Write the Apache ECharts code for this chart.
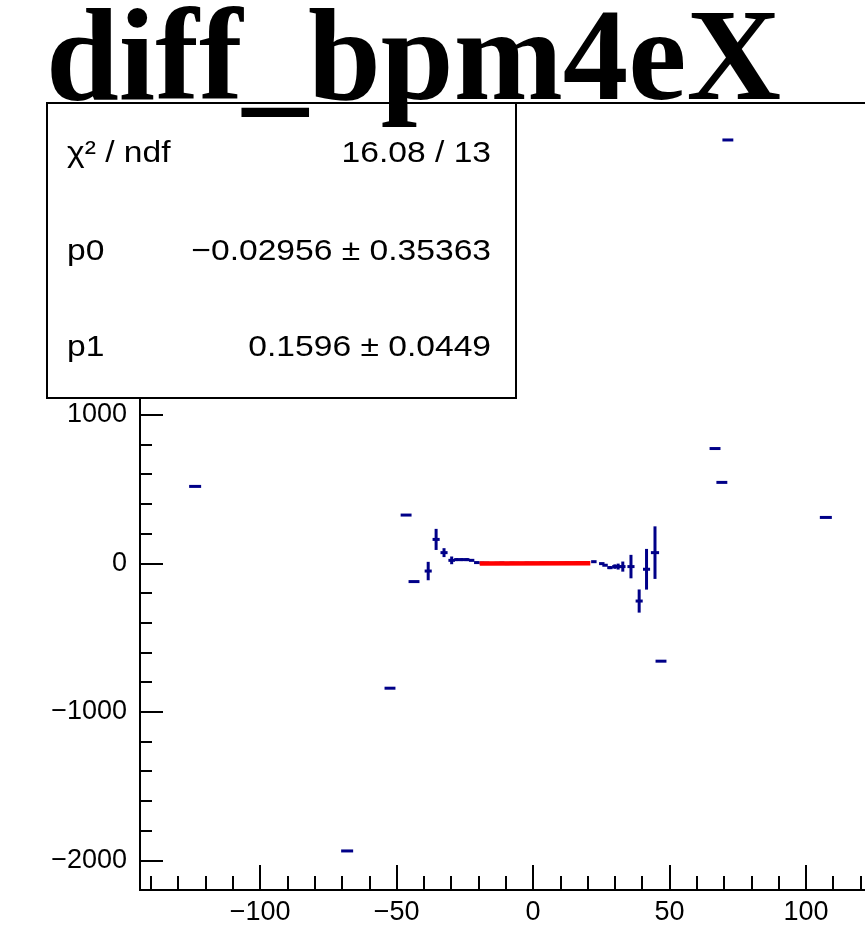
<!DOCTYPE html>
<html>
<head>
<meta charset="utf-8">
<script src="https://cdn.jsdelivr.net/npm/echarts@6/dist/echarts.min.js"></script>
<style>
html,body{margin:0;padding:0;background:#fff;overflow:hidden;}
#wrap{width:865px;height:945px;overflow:hidden;position:relative;}
#chart{width:926px;height:945px;}
</style>
</head>
<body>
<div id="wrap"><div id="chart"></div></div>
<script>
// ---- data ----
var titleText = 'diff_bpm4eX';
var pointsX = [-123.8, -68.1, -52.4, -46.5, -43.6, -38.4, -35.5, -32.6, -29.8, -27.9, -26.1, -24.3, -22.5, -20.6,
  -18.7, -16.9, -15.0, -13.2, -11.4, -9.5, -7.7, -5.9, -4.0, -2.2, -0.4, 1.5, 3.3, 5.1, 7.0, 8.8, 10.6, 12.5, 14.3, 16.1, 18.0, 19.8,
  22.3, 25.2, 26.4, 28.2, 30.0, 31.2, 32.9, 35.9, 38.9, 41.6, 44.7, 46.9, 66.7, 69.2, 71.4, 107.3];
var pointsY = [518, -1937, -841, 325, -123, -52, 161, 72, 20, 25, 25, 25, 20, 5,
  2, 1, -1, 0, 2, -2, 1, 0, -1, 1, 0, -1, 2, 1, 0, -1, 1, 2, 0, 1, 3, 2,
  11, -2, -13, -29, -22, -22, -22, -22, -254, -40, 72, -659, 773, 545, 2851, 309];
var pointsXErr = [2.2, 2.2, 2.0, 2.0, 2.0, 1.3, 1.3, 1.3, 1.2, 1.0, 1.0, 1.0, 1.0, 1.0,
  0.9, 0.9, 0.9, 0.9, 0.9, 0.9, 0.9, 0.9, 0.9, 0.9, 0.9, 0.9, 0.9, 0.9, 0.9, 0.9, 0.9, 0.9, 0.9, 0.9, 0.9, 0.9,
  1.0, 1.0, 1.0, 1.0, 1.0, 1.0, 1.0, 1.3, 1.3, 1.3, 1.5, 2.0, 2.0, 2.0, 2.0, 2.2];
var pointsYErr = [3, 3, 3, 3, 3, 62, 71, 30, 26, 10, 10, 10, 5, 5,
  4, 4, 4, 4, 4, 4, 4, 4, 4, 4, 4, 4, 4, 4, 4, 4, 4, 4, 4, 4, 4, 4,
  5, 5, 5, 10, 15, 20, 34, 79, 78, 137, 177, 3, 3, 3, 3, 3];
var fitX = [-19.5, 21.0];
var fitY = [-1.0, 1.0];
var xMajorTicks = [-100, -50, 0, 50, 100];
var xMinorTicks = [-140,-130,-120,-110,-100,-90,-80,-70,-60,-50,-40,-30,-20,-10,0,10,20,30,40,50,60,70,80,90,100,110,120,130,140];
var yMajorTicks = [-2000, -1000, 0, 1000, 2000, 3000];
var yMinorTicks = [-2200,-2000,-1800,-1600,-1400,-1200,-1000,-800,-600,-400,-200,0,200,400,600,800,1000,1200,1400,1600,1800,2000,2200,2400,2600,2800,3000];
var statsNames = ['\u03c7\u00b2 / ndf', 'p0', 'p1'];
var statsValues = ['16.08 / 13', '\u22120.02956 \u00b1 0.35363', '0.1596 \u00b1 0.0449'];

var X_MIN = -144, X_MAX = 144, Y_MIN = -2200, Y_MAX = 3100;

var pts = pointsX.map(function (x, i) { return [x, pointsY[i], pointsXErr[i], pointsYErr[i]]; });
var fitData = fitX.map(function (x, i) { return [x, fitY[i]]; });

function fmt(v) { return v < 0 ? '\u2212' + Math.abs(v) : String(v); }

var axisFont = { fontFamily: 'Liberation Sans', fontSize: 27, color: '#000' };
var PT_COLOR = '#000088';

var chart = echarts.init(document.getElementById('chart'), null, { renderer: 'canvas' });

var statsRows = [154, 252, 348];
var graphics = [
  { type: 'rect', z: 100, shape: { x: 47, y: 103, width: 469, height: 295 },
    style: { fill: '#fff', stroke: '#000', lineWidth: 2 } }
];
statsNames.forEach(function (n, i) {
  graphics.push({ type: 'text', z: 101, x: 67, y: statsRows[i], scaleX: 1.12,
    style: { text: n, font: '30px "Liberation Sans"', fill: '#000', textAlign: 'left', textVerticalAlign: 'middle' } });
  graphics.push({ type: 'text', z: 101, x: 491, y: statsRows[i], scaleX: 1.12,
    style: { text: statsValues[i], font: '30px "Liberation Sans"', fill: '#000', textAlign: 'right', textVerticalAlign: 'middle' } });
});
graphics.push({ type: 'text', z: 110, x: 46, y: 65,
  style: { text: titleText, font: 'bold 131px "Liberation Serif"', fill: '#000', textAlign: 'left', textVerticalAlign: 'middle' } });

chart.setOption({
  animation: false,
  backgroundColor: '#fff',
  grid: { left: 140, top: 103, bottom: 55, right: 0, show: true, borderColor: '#000', borderWidth: 2, backgroundColor: 'transparent' },
  xAxis: [
    { type: 'value', min: X_MIN, max: X_MAX, position: 'bottom',
      axisLine: { show: true, onZero: false, lineStyle: { color: '#000', width: 2 } },
      axisTick: { show: true, inside: true, length: 25, lineStyle: { color: '#000', width: 2 }, customValues: xMajorTicks },
      axisLabel: Object.assign({ show: true, margin: 9, customValues: xMajorTicks, formatter: fmt }, axisFont),
      splitLine: { show: false } },
    { type: 'value', min: X_MIN, max: X_MAX, position: 'bottom',
      axisLine: { show: false, onZero: false },
      axisTick: { show: true, inside: true, length: 14, lineStyle: { color: '#000', width: 2 }, customValues: xMinorTicks },
      axisLabel: { show: false },
      splitLine: { show: false } }
  ],
  yAxis: [
    { type: 'value', min: Y_MIN, max: Y_MAX, position: 'left',
      axisLine: { show: true, onZero: false, lineStyle: { color: '#000', width: 2 } },
      axisTick: { show: true, inside: true, length: 23, lineStyle: { color: '#000', width: 2 }, customValues: yMajorTicks },
      axisLabel: Object.assign({ show: true, margin: 13, customValues: yMajorTicks, formatter: fmt }, axisFont),
      splitLine: { show: false } },
    { type: 'value', min: Y_MIN, max: Y_MAX, position: 'left', offset: 0,
      axisLine: { show: false, onZero: false },
      axisTick: { show: true, inside: true, length: 12, lineStyle: { color: '#000', width: 2 }, customValues: yMinorTicks },
      axisLabel: { show: false },
      splitLine: { show: false } }
  ],
  series: [
    { type: 'custom', xAxisIndex: 0, yAxisIndex: 0, data: pts, z: 5,
      renderItem: function (params, api) {
        var x = api.value(0), y = api.value(1), ex = api.value(2), ey = api.value(3);
        var l = api.coord([x - ex, y]), r = api.coord([x + ex, y]);
        var t = api.coord([x, y + ey]), b = api.coord([x, y - ey]);
        var st = { stroke: PT_COLOR, lineWidth: 3, fill: null };
        return { type: 'group', children: [
          { type: 'line', shape: { x1: l[0], y1: l[1], x2: r[0], y2: r[1] }, style: st },
          { type: 'line', shape: { x1: t[0], y1: t[1], x2: b[0], y2: b[1] }, style: st }
        ] };
      } },
    { type: 'line', xAxisIndex: 0, yAxisIndex: 0, data: fitData, z: 6, symbol: 'none',
      lineStyle: { color: '#ff0000', width: 4.5 } }
  ],
  graphic: graphics
});
</script>
</body>
</html>
